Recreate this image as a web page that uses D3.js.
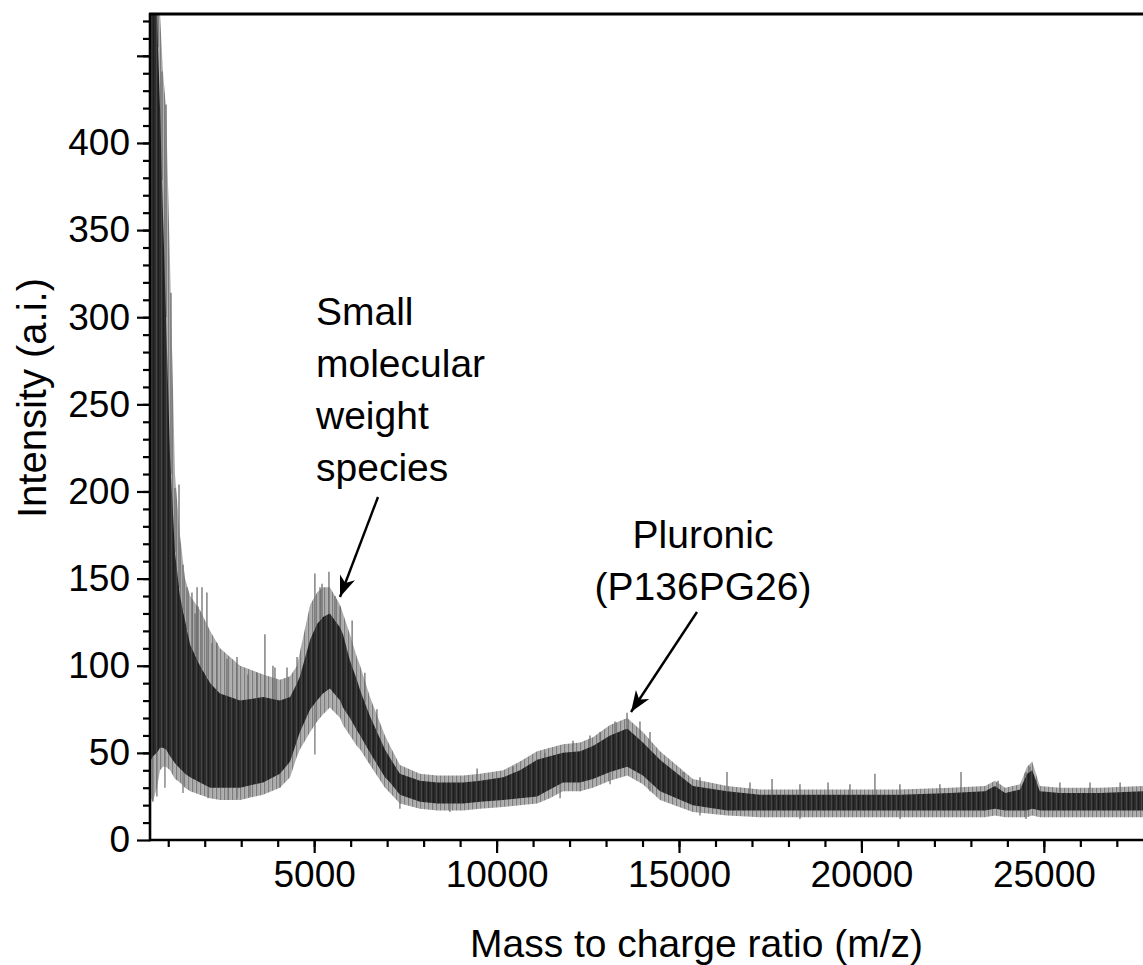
<!DOCTYPE html>
<html><head><meta charset="utf-8">
<script src="https://cdn.jsdelivr.net/npm/d3@7"></script>
<style>
body{margin:0;background:#fff}
svg{display:block}
text{font-family:"Liberation Sans",Arial,sans-serif;fill:#000}
</style>
</head><body>
<svg id="chart" width="1143" height="965"></svg>
<script>
// ---- data (m/z, intensity a.i.) ----
const mz = [500, 580, 690, 775, 855, 940, 1050, 1185, 1320, 1460, 1600, 1870, 2150, 2420, 2970, 3600, 4060, 4340, 4530, 4610, 4890, 5080, 5240, 5430, 5710, 5790, 5980, 6170, 6260, 6530, 6940, 7080, 7350, 7900, 8370, 9080, 9550, 10180, 10640, 11110, 11460, 11820, 12290, 12640, 13110, 13580, 14010, 14480, 15380, 16320, 17220, 18320, 19690, 21060, 22430, 23390, 23660, 23940, 24350, 24540, 24680, 24890, 25440, 26540, 27800];
const darkUpper = [474, 474, 474, 420, 360, 300, 220, 165, 140, 126, 112, 100, 90, 84, 80, 82, 80, 82, 90, 94, 115, 124, 128, 130, 122, 118, 103, 92, 86, 71, 52, 47, 38, 34, 33, 33, 34, 36, 40, 46, 48, 50, 51, 54, 60, 64, 56, 46, 31, 28, 26, 26, 26, 26, 27, 28, 31, 27, 29, 38, 40, 28, 27, 27, 28];
const darkLower = [45, 48, 50, 53, 53, 52, 48, 44, 41, 38, 36, 33, 30, 30, 30, 33, 38, 45, 57, 62, 75, 80, 84, 87, 80, 76, 70, 63, 60, 50, 36, 33, 26, 22, 21, 21, 22, 23, 24, 25, 29, 33, 33, 35, 39, 42, 37, 28, 20, 17, 17, 17, 17, 17, 17, 17, 18, 17, 17, 17, 18, 17, 17, 17, 17];
const outerUpper = [474, 474, 474, 474, 441, 420, 330, 210, 175, 150, 140, 132, 120, 110, 100, 95, 92, 94, 100, 108, 135, 142, 145, 145, 135, 130, 118, 105, 100, 82, 60, 54, 43, 38, 37, 37, 38, 40, 45, 51, 53, 55, 56, 59, 66, 70, 62, 51, 35, 31, 29, 29, 29, 29, 30, 31, 34, 30, 32, 42, 45, 31, 30, 30, 31];
const outerLower = [25, 22, 30, 40, 42, 42, 40, 35, 33, 30, 28, 26, 24, 23, 23, 26, 30, 36, 48, 52, 62, 68, 72, 76, 70, 66, 60, 54, 52, 43, 30, 27, 21, 18, 17, 17, 18, 19, 20, 21, 24, 28, 28, 30, 34, 37, 32, 23, 16, 14, 13, 13, 13, 13, 13, 13, 14, 13, 13, 13, 14, 13, 13, 13, 13];
const spikeMz  = [720, 830, 940, 1075, 1185, 1295, 1405, 1515, 1650, 1735, 1790, 1815, 1925, 2060, 2200, 2335, 2610, 2885, 3185, 3435, 3650, 3870, 3925, 4255, 4530, 5020, 5160, 5215, 5405, 5570, 5710, 6040, 6390, 6720, 9465, 10450, 11325, 12095, 12560, 12835, 13245, 13575, 13930, 14205, 15110, 15575, 16315, 16945, 17550, 18315, 19085, 19685, 20370, 21055, 22150, 22730, 23745, 24510, 24620, 25440, 26265, 27090];
const spikeTop = [474, 441, 422, 314, 202, 204, 158, 145, 142, 130, 145, 134, 145, 142, 113, 113, 104, 105, 95, 96, 118, 100, 99, 99, 105, 153, 145, 147, 154, 140, 134, 126, 96, 75, 41, 42, 50, 57, 60, 62, 68, 73, 68, 62, 39, 36, 39, 33, 35, 32, 33, 32, 38, 32, 32, 39, 34, 39, 42, 33, 33, 33];
const dipMz     = [580, 690, 910, 1405, 2090, 2640, 2885, 3240, 4060, 5020, 5900, 6530, 7350, 8720, 11740, 12290, 13110, 14205, 15575, 18315, 21060, 24510];
const dipBottom = [22, 25, 30, 27, 24, 23, 24, 25, 30, 49, 73, 44, 18, 16, 24, 28, 32, 28, 14, 12, 12, 12];
const xMajorTicks = [5000, 10000, 15000, 20000, 25000];
const yMajorTicks = [0, 50, 100, 150, 200, 250, 300, 350, 400, 450];
const yTickLabels = ["0", "50", "100", "150", "200", "250", "300", "350", "400", ""];
const xTitle = "Mass to charge ratio (m/z)";
const yTitle = "Intensity (a.i.)";
const note1 = ["Small", "molecular", "weight", "species"];
const note2 = ["Pluronic", "(P136PG26)"];

// ---- drawing ----
const svg = d3.select("#chart");
const x = d3.scaleLinear().domain([500, 27800]).range([150, 1146]);
const y = d3.scaleLinear().domain([0, 474]).range([840, 14]);

const defs = svg.append("defs");
defs.append("clipPath").attr("id", "plot").append("rect")
  .attr("x", 151).attr("y", 14).attr("width", 1000).attr("height", 826);
const pat = defs.append("pattern").attr("id", "noise").attr("patternUnits", "userSpaceOnUse")
  .attr("width", 5).attr("height", 40);
pat.append("rect").attr("width", 5).attr("height", 40).attr("fill", "#2c2c2c");
pat.append("rect").attr("x", 1).attr("width", 1).attr("height", 40).attr("fill", "#454545");
pat.append("rect").attr("x", 3).attr("width", 1).attr("height", 40).attr("fill", "#1c1c1c");
const pat2 = defs.append("pattern").attr("id", "fuzz").attr("patternUnits", "userSpaceOnUse")
  .attr("width", 4).attr("height", 40);
pat2.append("rect").attr("width", 4).attr("height", 40).attr("fill", "#bcbcbc");
pat2.append("rect").attr("x", 0).attr("width", 1.3).attr("height", 40).attr("fill", "#7d7d7d");
pat2.append("rect").attr("x", 2.5).attr("width", 0.8).attr("height", 40).attr("fill", "#9a9a9a");
defs.append("marker").attr("id", "arrow").attr("viewBox", "-22 -10 24 20")
  .attr("refX", 0).attr("refY", 0).attr("markerWidth", 24).attr("markerHeight", 20)
  .attr("markerUnits", "userSpaceOnUse").attr("orient", "auto")
  .append("path").attr("d", "M0,0 L-21,-8 L-15,0 L-21,8 Z").attr("fill", "#000");

const g = svg.append("g").attr("clip-path", "url(#plot)");
const idx = d3.range(mz.length);
const interp = (arr, m) => {
  const i = Math.max(1, Math.min(mz.length - 1, d3.bisectLeft(mz, m)));
  const t = (m - mz[i - 1]) / (mz[i] - mz[i - 1]);
  return arr[i - 1] + t * (arr[i] - arr[i - 1]);
};

g.append("path").attr("fill", "url(#fuzz)")
  .attr("d", d3.area().x(i => x(mz[i])).y0(i => y(outerLower[i])).y1(i => y(outerUpper[i]))(idx));
g.selectAll("line.spike").data(d3.range(spikeMz.length)).join("line")
  .attr("x1", i => x(spikeMz[i])).attr("x2", i => x(spikeMz[i]))
  .attr("y1", i => y(interp(darkUpper, spikeMz[i]))).attr("y2", i => y(spikeTop[i]))
  .attr("stroke", "#6e6e6e").attr("stroke-width", 1.3);
g.selectAll("line.dip").data(d3.range(dipMz.length)).join("line")
  .attr("x1", i => x(dipMz[i])).attr("x2", i => x(dipMz[i]))
  .attr("y1", i => y(interp(darkLower, dipMz[i]))).attr("y2", i => y(dipBottom[i]))
  .attr("stroke", "#777").attr("stroke-width", 1.3);
g.append("path").attr("fill", "url(#noise)")
  .attr("d", d3.area().x(i => x(mz[i])).y0(i => y(darkLower[i])).y1(i => y(darkUpper[i]))(idx));

// axes
const fs = 37, fsT = 39;
const xMinor = svg.append("g").attr("transform", `translate(0,${y(0)})`)
  .call(d3.axisBottom(x).tickValues(d3.range(1000, 28000, 1000)).tickSize(7).tickSizeOuter(0).tickFormat(""));
const xMajor = svg.append("g").attr("transform", `translate(0,${y(0)})`)
  .call(d3.axisBottom(x).tickValues(xMajorTicks).tickSize(13).tickSizeOuter(0).tickPadding(8).tickFormat(d3.format("d")));
const yMinor = svg.append("g").attr("transform", `translate(${x(500)},0)`)
  .call(d3.axisLeft(y).tickValues(d3.range(10, 471, 10)).tickSize(7).tickSizeOuter(0).tickFormat(""));
const yMajor = svg.append("g").attr("transform", `translate(${x(500)},0)`)
  .call(d3.axisLeft(y).tickValues(yMajorTicks).tickSize(13).tickSizeOuter(0).tickPadding(7)
    .tickFormat((d, i) => yTickLabels[i]));
[xMinor, xMajor, yMinor, yMajor].forEach(a => {
  a.select(".domain").remove();
  a.selectAll(".tick line").attr("stroke", "#000").attr("stroke-width", 2.2);
  a.selectAll("text").attr("font-size", fs).attr("font-family", "Liberation Sans, Arial, sans-serif").attr("fill", "#000");
});
svg.append("line").attr("x1", 150).attr("x2", 1143).attr("y1", y(0)).attr("y2", y(0)).attr("stroke", "#000").attr("stroke-width", 2.6);
svg.append("line").attr("x1", 150).attr("x2", 150).attr("y1", 13).attr("y2", y(0) + 1.3).attr("stroke", "#000").attr("stroke-width", 2.6);
svg.append("line").attr("x1", 149).attr("x2", 1143).attr("y1", 14).attr("y2", 14).attr("stroke", "#000").attr("stroke-width", 2.8);

// titles
svg.append("text").attr("x", 470).attr("y", 957).attr("font-size", fsT).text(xTitle);
svg.append("text").attr("transform", "translate(46,398) rotate(-90)").attr("text-anchor", "middle")
  .attr("font-size", 40).text(yTitle);

// annotations
svg.append("g").selectAll("text").data(note1).join("text")
  .attr("x", 316).attr("y", (d, i) => 325 + i * 52).attr("font-size", fsT).text(d => d);
svg.append("g").selectAll("text").data(note2).join("text")
  .attr("x", 703).attr("y", (d, i) => 548 + i * 52).attr("text-anchor", "middle").attr("font-size", fsT).text(d => d);
svg.append("line").attr("x1", 378).attr("y1", 497).attr("x2", 340).attr("y2", 597)
  .attr("stroke", "#000").attr("stroke-width", 2.4).attr("marker-end", "url(#arrow)");
svg.append("line").attr("x1", 697).attr("y1", 612).attr("x2", 631).attr("y2", 712)
  .attr("stroke", "#000").attr("stroke-width", 2.4).attr("marker-end", "url(#arrow)");
</script>
</body></html>
